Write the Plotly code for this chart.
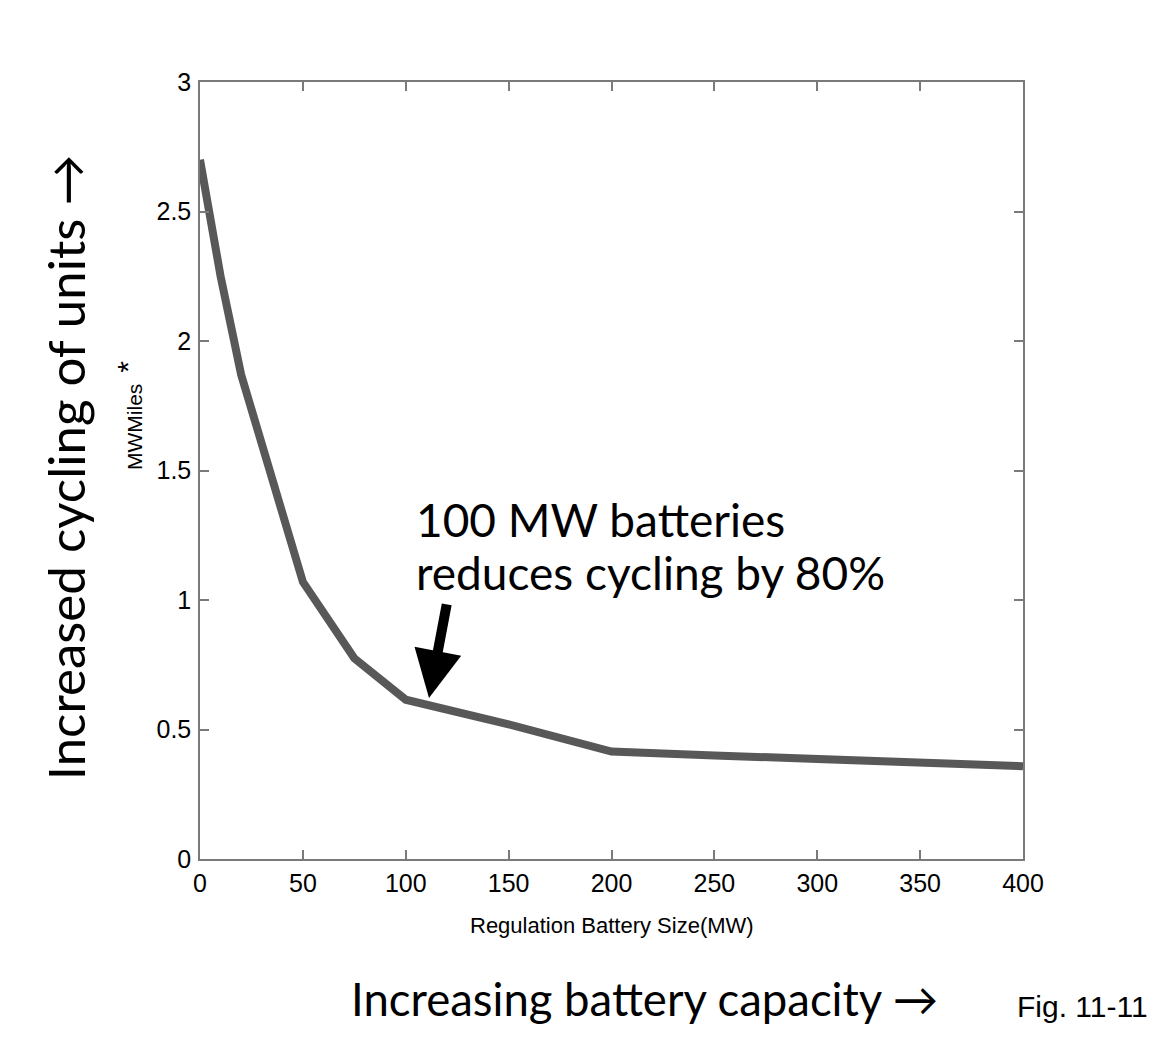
import plotly.graph_objects as go

# Regulation battery size (MW) vs MW-miles
battery_mw = [0, 10, 20, 50, 75, 100, 150, 200, 250, 300, 350, 400]
mw_miles = [2.70, 2.25, 1.87, 1.07, 0.775, 0.615, 0.52, 0.415, 0.40, 0.385, 0.37, 0.358]

x_ticks = [0, 50, 100, 150, 200, 250, 300, 350, 400]
y_ticks = [0, 0.5, 1, 1.5, 2, 2.5, 3]

axis_grey = '#7a7a7a'
tick_font = dict(family='Arial, Liberation Sans', size=25, color='black')
big_font = 'Lato, Open Sans'

fig = go.Figure()

fig.add_trace(go.Scatter(
    x=battery_mw,
    y=mw_miles,
    mode='lines',
    line=dict(color='#585858', width=8),
    showlegend=False,
    hoverinfo='skip',
))

fig.update_xaxes(
    range=[0, 400],
    tickvals=x_ticks,
    ticks='inside', ticklen=9, tickcolor=axis_grey, tickwidth=1.5,
    showline=True, linecolor=axis_grey, linewidth=1.5, mirror='ticks',
    showgrid=False, zeroline=False,
    tickfont=tick_font, ticklabelstandoff=1,
)
fig.update_yaxes(
    range=[0, 3],
    tickvals=y_ticks,
    ticks='inside', ticklen=9, tickcolor=axis_grey, tickwidth=1.5,
    showline=True, linecolor=axis_grey, linewidth=1.5, mirror='ticks',
    showgrid=False, zeroline=False,
    tickfont=tick_font, ticklabelstandoff=2,
)


def label(x, y, text, size, family=big_font, angle=0, xanchor='center'):
    fig.add_annotation(
        x=x, y=y, xref='paper', yref='paper',
        xanchor=xanchor, yanchor='middle',
        text=text, textangle=angle, showarrow=False,
        font=dict(family=family, size=size, color='black'),
    )


arial = 'Arial, Liberation Sans'

# Small axis labels (original Matlab style)
label(0.5, -0.085, 'Regulation Battery Size(MW)', 22, arial)
label(-0.079, 0.556, 'MWMiles', 21, arial, angle=-90)
label(-0.088, 0.633, '*', 30, arial, angle=-90)

# Big slide labels
label(-0.163, 0.504, 'Increased cycling of units →', 51, angle=-90)
label(0.5395, -0.18, 'Increasing battery capacity →', 45.5)
label(1.0717, -0.19, 'Fig. 11-11', 30, arial)

# Callout
label(0.26, 0.437, '100 MW batteries', 46, xanchor='left')
label(0.26, 0.369, 'reduces cycling by 80%', 46, xanchor='left')
fig.add_annotation(
    x=111.3, y=0.622, xref='x', yref='y',
    text='', showarrow=True,
    ax=18, ay=-95,
    arrowhead=2, arrowsize=0.95, arrowwidth=10, arrowcolor='black',
)

fig.update_layout(
    width=1166,
    height=1058,
    margin=dict(l=192, r=151, t=74, b=207),
    paper_bgcolor='white',
    plot_bgcolor='white',
    showlegend=False,
)

fig.write_html("out.html")
